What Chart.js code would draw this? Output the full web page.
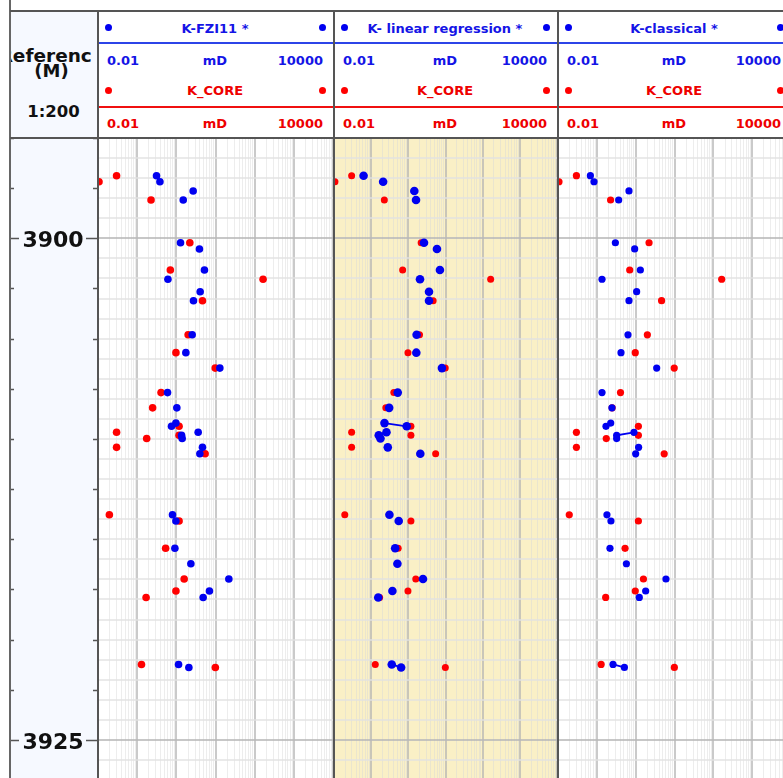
<!DOCTYPE html>
<html>
<head>
<meta charset="utf-8">
<title>Permeability logs</title>
<script src="https://cdn.jsdelivr.net/npm/chart.js@4.4.1/dist/chart.umd.min.js"></script>
<style>
  html, body { margin: 0; padding: 0; background: #fff; overflow: hidden; }
  #page { position: relative; width: 783px; height: 778px; overflow: hidden;
          font-family: "DejaVu Sans", Verdana, sans-serif; font-weight: bold; }
  #page canvas { position: absolute; }
</style>
</head>
<body>
<div id="page"></div>
<script>
// ---- data (depth in metres, permeability in mD) ----
const depth = [3896.88, 3897.18, 3897.64, 3898.09, 3900.22, 3900.53, 3901.58, 3902.04, 3902.66, 3903.11,
               3904.81, 3905.70, 3906.47, 3907.69, 3908.45, 3909.21, 3909.37, 3909.67, 3909.82, 3909.98,
               3910.42, 3910.74, 3913.78, 3914.09, 3915.45, 3916.22, 3916.98, 3917.58, 3917.90, 3921.24,
               3921.39];
const kCore = [0.0298, 0.0106, null, 0.226, 2.21, null, 0.703, 164, null, 4.65,
               2.0, 0.977, 9.84, 0.407, 0.248, null, 1.175, 0.0298, 1.175, 0.175,
               0.0298, 5.43, 0.0195, 1.175, 0.533, null, 1.585, 0.977, 0.169, 0.129,
               9.91];
const kFzi11 = [0.312, 0.381, 2.69, 1.50, 1.28, 3.89, 5.22, 0.610, 4.06, 2.74,
                2.54, 1.75, 12.9, 0.596, 1.03, 0.975, 0.753, 3.61, 1.36, 1.41,
                4.65, 3.99, 0.798, 0.975, 0.918, 2.35, 21.9, 7.0, 4.84, 1.14,
                2.09];
const kLinReg = [0.0625, 0.210, 1.45, 1.61, 2.64, 5.89, 7.08, 2.06, 3.60, 3.60,
                 1.67, 1.64, 8.02, 0.518, 0.305, 0.228, 0.904, 0.258, 0.160, 0.178,
                 0.280, 2.10, 0.310, 0.551, 0.442, 0.508, 2.48, 0.373, 0.155, 0.358,
                 0.640];
const kClassical = [0.0682, 0.0845, 0.673, 0.365, 0.300, 0.942, 1.32, 0.136, 1.06, 0.673,
                    0.634, 0.419, 3.48, 0.136, 0.245, 0.228, 0.172, 0.904, 0.324, 0.324,
                    1.19, 1.00, 0.182, 0.231, 0.218, 0.577, 6.03, 1.81, 1.24, 0.261,
                    0.512];

const trackTitles = ['K-FZI11 *', 'K- linear regression *', 'K-classical *'];
const trackValues = [kFzi11, kLinReg, kClassical];
const coreTitle = 'K_CORE';
const scaleLabels = ['0.01', 'mD', '10000'];
const kMin = 0.01, kMax = 10000;
const depthTop = 3895, depthBottom = 3926.9;
const depthLabelStep = 25, depthTickStep = 2.5, depthGridStep = 1;
const depthTitle = ['Reference', '(M)'];
const depthScaleText = '1:200';

// ---- layout ----
const BLUE = '#0000f0', RED = '#ff0000', BLUE_TXT = '#1414e6', RED_TXT = '#ee0000';
const plotTop = 138, plotHeight = 640;
const tracks = [
  { left: 98,  width: 235, shade: null,               line: false, rBlue: 3.8, rRed: 3.8 },
  { left: 334, width: 223, shade: 'rgb(250,240,198)', line: true,  rBlue: 4.3, rRed: 3.5 },
  { left: 558, width: 233, shade: null,               line: true,  rBlue: 3.6, rRed: 3.6 }
];

const page = document.getElementById('page');
function box(left, top, width, height, css, text) {
  const d = document.createElement('div');
  d.style.cssText = `position:absolute;left:${left}px;top:${top}px;width:${width}px;height:${height}px;${css || ''}`;
  if (text !== undefined) d.textContent = text;
  page.appendChild(d);
  return d;
}

// depth column background
box(10, 11, 87, 767, 'background:rgb(246,249,255);');

function logGridValues(min, max) {
  const vals = [];
  for (let e = Math.round(Math.log10(min)); e < Math.round(Math.log10(max)); e++) {
    for (let m = 1; m < 10; m++) vals.push(+(m * Math.pow(10, e)).toPrecision(6));
  }
  vals.push(max);
  return vals;
}
function stepValues(min, max, step) {
  const v = [];
  for (let d = Math.ceil(min / step - 1e-9) * step; d <= max + 1e-9; d += step) v.push(+d.toFixed(3));
  return v;
}
const isDecade = v => Math.abs(Math.log10(v) - Math.round(Math.log10(v))) < 1e-6;
const isMultiple = (v, s) => Math.abs(v / s - Math.round(v / s)) < 1e-6;

// one point list per curve; a null x breaks the line between non-adjacent samples
function series(values) {
  const pts = [];
  for (let i = 0; i < depth.length; i++) {
    if (i > 0 && depth[i] - depth[i - 1] > 0.2) pts.push({ x: null, y: depth[i] });
    pts.push({ x: values[i], y: depth[i] });
  }
  return pts;
}

function makeCanvas(left, top, width, height, bg) {
  const c = document.createElement('canvas');
  c.width = width; c.height = height;
  c.style.left = left + 'px'; c.style.top = top + 'px';
  c.style.width = width + 'px'; c.style.height = height + 'px';
  if (bg) c.style.background = bg;
  page.appendChild(c);
  return c;
}

const depthScale = (ticksStep, gridFn) => ({
  type: 'linear', reverse: true, min: depthTop, max: depthBottom,
  afterBuildTicks: s => { s.ticks = stepValues(depthTop, depthBottom, ticksStep).map(v => ({ value: v })); },
  ticks: { display: false }, border: { display: false },
  grid: gridFn
});

const baseOptions = {
  responsive: false, animation: false, devicePixelRatio: 1, events: [],
  layout: { padding: 0, autoPadding: false },
  plugins: { legend: { display: false }, tooltip: { enabled: false } }
};

tracks.forEach((t, i) => {
  const cv = makeCanvas(t.left, plotTop, t.width, plotHeight, t.shade);
  new Chart(cv, {
    type: 'scatter',
    data: {
      datasets: [
        { label: trackTitles[i], data: series(trackValues[i]), showLine: t.line,
          borderColor: BLUE, borderWidth: 1.8, pointRadius: t.rBlue, pointBorderWidth: 0,
          pointBackgroundColor: BLUE },
        { label: coreTitle, data: series(kCore), showLine: false,
          pointRadius: t.rRed, pointBorderWidth: 0, pointBackgroundColor: RED }
      ]
    },
    options: {
      ...baseOptions,
      scales: {
        x: {
          type: 'logarithmic', min: kMin, max: kMax, position: 'top',
          afterBuildTicks: s => { s.ticks = logGridValues(kMin, kMax).map(v => ({ value: v })); },
          ticks: { display: false }, border: { display: false },
          grid: {
            drawTicks: false,
            color: c => isDecade(c.tick.value) ? 'rgba(180,180,180,0.7)' : 'rgba(215,215,215,0.45)',
            lineWidth: c => isDecade(c.tick.value) ? 2 : 1
          }
        },
        y: depthScale(depthGridStep, {
          drawTicks: false,
          color: c => isMultiple(c.tick.value, depthLabelStep) ? 'rgba(185,185,185,0.8)' : 'rgba(225,225,225,0.7)',
          lineWidth: 2
        })
      }
    }
  });

  // header
  const L = t.left, W = t.width;
  const txt = (c, top, align, s) => box(L + 9, top, W - 19, 20,
    `color:${c};font-size:13px;line-height:20px;text-align:${align};white-space:nowrap;`, s);
  const dot = (c, cx, cy) => box(cx - 3.5, cy - 3.5, 7, 7, `background:${c};border-radius:50%;`);
  // blue curve rows
  dot(BLUE, L + 10, 27); dot(BLUE, L + W - 11, 27);
  txt(BLUE_TXT, 19, 'center', trackTitles[i]);
  box(L, 42, W, 2, `background:#2c44e8;`);
  txt(BLUE_TXT, 51, 'left', scaleLabels[0]);
  txt(BLUE_TXT, 51, 'center', scaleLabels[1]);
  txt(BLUE_TXT, 51, 'right', scaleLabels[2]);
  // red curve rows
  dot(RED, L + 10, 90); dot(RED, L + W - 11, 90);
  txt(RED_TXT, 81, 'center', coreTitle);
  box(L, 106, W, 2, `background:#f01010;`);
  txt(RED_TXT, 114, 'left', scaleLabels[0]);
  txt(RED_TXT, 114, 'center', scaleLabels[1]);
  txt(RED_TXT, 114, 'right', scaleLabels[2]);
});

// depth column header text (title is wider than the column and gets cut on both sides)
const titleClip = box(11, 47, 81, 20, 'overflow:hidden;');
const titleSpan = document.createElement('span');
titleSpan.textContent = depthTitle[0];
titleSpan.style.cssText = 'position:absolute;left:50%;top:0;transform:translateX(-50%);white-space:nowrap;font-size:18.5px;line-height:18px;color:#111;';
titleClip.appendChild(titleSpan);
box(11, 62, 81, 20, 'text-align:center;font-size:18px;line-height:18px;color:#111;', depthTitle[1]);
box(10, 104, 87, 18, 'text-align:center;font-size:16.5px;line-height:16px;color:#111;', depthScaleText);

// depth axis
const depthCanvas = makeCanvas(10, plotTop, 87, plotHeight, null);
new Chart(depthCanvas, {
  type: 'scatter',
  data: { datasets: [] },
  options: {
    ...baseOptions,
    scales: {
      x: { display: false, min: 0, max: 1 },
      y: depthScale(depthTickStep, { display: false, drawTicks: false })
    }
  },
  plugins: [{
    id: 'depthTicks',
    afterDraw(chart) {
      const ctx = chart.ctx, s = chart.scales.y, w = chart.width;
      ctx.save();
      ctx.strokeStyle = '#555'; ctx.lineWidth = 1.5;
      ctx.fillStyle = '#111';
      ctx.font = 'bold 22px "DejaVu Sans"';
      ctx.textAlign = 'center'; ctx.textBaseline = 'alphabetic';
      s.ticks.forEach(tk => {
        const y = Math.round(s.getPixelForValue(tk.value)) + 0.5;
        const major = isMultiple(tk.value, depthLabelStep);
        ctx.beginPath();
        ctx.moveTo(0, y); ctx.lineTo(major ? 9 : 4, y);
        ctx.moveTo(w - (major ? 11 : 4), y); ctx.lineTo(w, y);
        ctx.stroke();
        if (major) ctx.fillText(String(tk.value), 43, y + 8);
      });
      ctx.restore();
    }
  }]
});

// frame lines
box(9, 0, 1.5, 778, 'background:#666;');
box(10, 10, 773, 1.5, 'background:#555;');
box(10, 137, 773, 1.5, 'background:#555;');
[97, 333, 557].forEach(x => box(x, 10, 1.5, 768, 'background:#555;'));
</script>
</body>
</html>
